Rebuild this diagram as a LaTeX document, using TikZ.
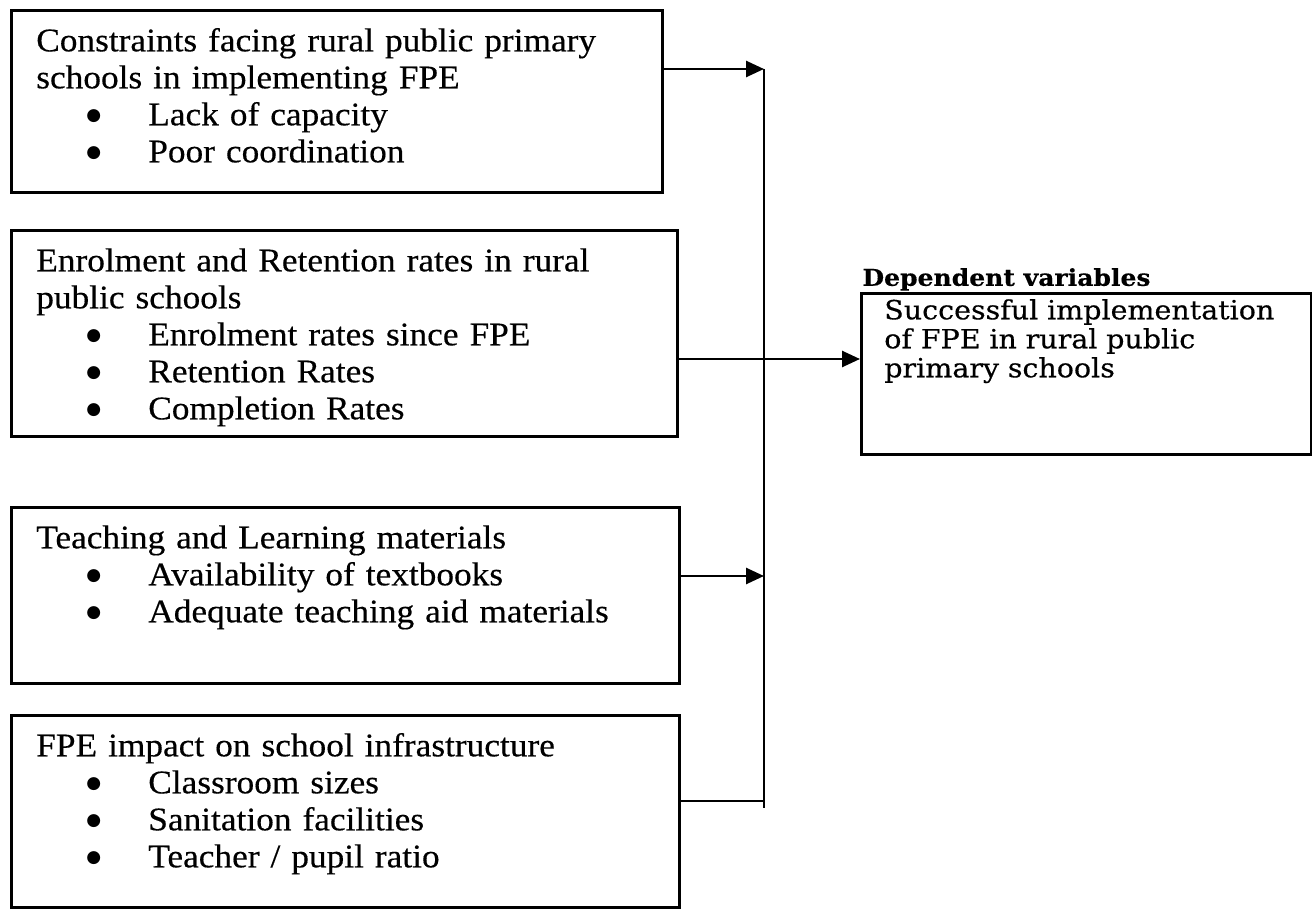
\documentclass[tikz,border=0pt]{standalone}
\usepackage{fontspec}
\setmainfont[FakeStretch=1.07,FakeBold=0.4]{Liberation Serif}
\newfontfamily\depfont[FakeStretch=1.08,FakeBold=0.4]{DejaVu Serif}
\newfontfamily\dotfont{DejaVu Sans}
\usetikzlibrary{arrows.meta}
\tikzset{factor/.style={draw=black,line width=1.3pt,anchor=north west,inner xsep=12.5pt,inner ysep=0pt,
  align=left,text width=#1,text height=20.5pt,font=\fontsize{16.5}{18.5}\selectfont},factor/.default=309pt}
\tikzset{depbox/.style={draw=black,line width=1.3pt,anchor=north west,inner xsep=11.5pt,inner ysep=0pt,
  align=left,text width=202pt,text height=13pt,text depth=67.5pt,font=\depfont\fontsize{13.2}{14.5}\selectfont}}
\tikzset{deptitle/.style={anchor=south west,inner xsep=0pt,inner ysep=0.5pt,xshift=1pt,font=\depfont\bfseries\fontsize{11.6}{12}\selectfont}}
\tikzset{link/.style={line width=1.3pt,-{Triangle[length=9pt,width=8pt]}}}
\tikzset{bus/.style={line width=1.3pt}}
\newcommand{\pnt}{\hspace*{25pt}\makebox[31pt][l]{\raisebox{2.2pt}{\dotfont\fontsize{8.5}{10}\selectfont ●}}}

\begin{document}
\begin{tikzpicture}[x=0.5pt,y=-0.5pt]
	\useasboundingbox (0,0) rectangle (1312,909);

	% As variaveis independentes
	\node[factor=300.5pt,text depth=70.5pt] (cons) at (10,9) {Constraints facing rural public primary\\
		schools in implementing FPE\\ \pnt Lack of capacity\\ \pnt Poor coordination};
	\node[factor=308pt,text depth=82.5pt] (enrol) at (10,229) {Enrolment and Retention rates in rural\\
		public schools\\ \pnt Enrolment rates since FPE\\ \pnt Retention Rates\\ \pnt Completion Rates};
	\node[factor,text depth=67.5pt] (teach) at (10,506) {Teaching and Learning materials\\
		\pnt Availability of textbooks\\ \pnt Adequate teaching aid materials};
	\node[factor,text depth=75.5pt] (infra) at (10,714) {FPE impact on school infrastructure\\
		\pnt Classroom sizes\\ \pnt Sanitation facilities\\ \pnt Teacher / pupil ratio};

	% A variavel dependente
	\node[depbox] (dep) at (860,292) {Successful implementation\\ of FPE in rural public\\ primary schools};
	\node[deptitle] (title) at (dep.north west) {Dependent variables};

	% O barramento
	\coordinate (bustop) at (764,69);
	\coordinate (bus2) at (764,359);
	\coordinate (bus3) at (764,576);
	\coordinate (bus4) at (764,801);
	\coordinate (busbot) at (764,808);
	\draw [bus] (bustop) -- (busbot);

	% As setas
	\draw [link] (cons.east |- bustop) -- (bustop);
	\draw [link] (enrol.east |- bus2) -- (dep.west |- bus2);
	\draw [link] (teach.east |- bus3) -- (bus3);
	\draw [bus] (infra.east |- bus4) -- (bus4);

\end{tikzpicture}
\end{document}
